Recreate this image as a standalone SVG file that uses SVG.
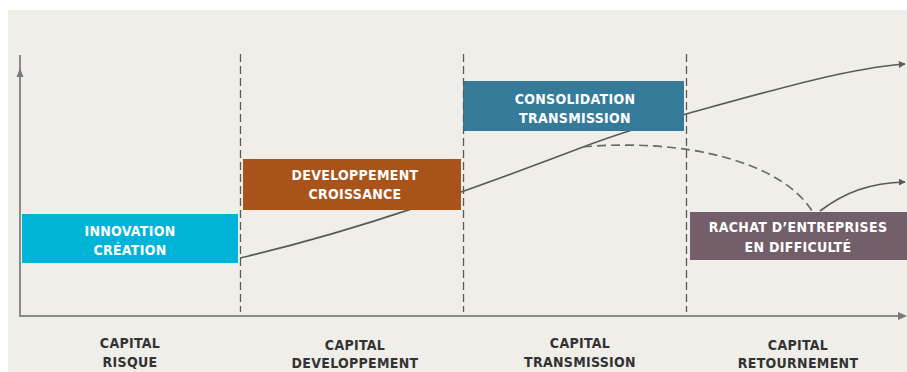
<svg xmlns="http://www.w3.org/2000/svg" width="907" height="372" viewBox="0 0 907 372">
<defs>
<marker id="ah" viewBox="0 0 10 10" refX="9" refY="5" markerWidth="7" markerHeight="7" markerUnits="userSpaceOnUse" orient="auto">
<path d="M0,0 L10,5 L0,10 z" fill="#5a5a5a"/>
</marker>
<style>
.bg{fill:#efeee8}
.line{fill:none;stroke:#5a5a5a;stroke-width:1.6}
.dash{fill:none;stroke:#6a6a6a;stroke-width:1.7;stroke-dasharray:9 5}
.guide{fill:none;stroke:#5a5a5a;stroke-width:1.3;stroke-dasharray:8 4}
.axis{fill:none;stroke:#8a8a8a;stroke-width:2}
.bt{font-family:"DejaVu Sans Condensed","DejaVu Sans",sans-serif;font-weight:bold;font-size:14px;letter-spacing:0.3px;fill:#ffffff;text-anchor:middle}
.lt{font-family:"DejaVu Sans Condensed","DejaVu Sans",sans-serif;font-weight:bold;font-size:14px;letter-spacing:0.3px;fill:#333333;text-anchor:middle}
</style>
</defs>
<rect x="0" y="0" width="907" height="372" fill="#ffffff"/>
<rect class="bg" x="8" y="10" width="899" height="362"/>
<g id="axes">
<line class="axis" x1="20" y1="55" x2="20" y2="317"/>
<path d="M16.5,77 L20,68 L23.5,77 z" fill="#7a7a7a"/>
<line class="axis" x1="19" y1="316" x2="900" y2="316"/>
<path d="M898,312 L907,316 L898,320 z" fill="#7a7a7a"/>
</g>
<g id="connectors">
<path class="line" d="M240,258 C360,230 470,190 583,147 C620,133 650,124 686,114 C780,88 850,68 905,64" marker-end="url(#ah)"/>
<path class="dash" d="M583,147 C680,138 780,160 812,211"/>
<path class="line" d="M820,211 C845,192 870,183 905,182" marker-end="url(#ah)"/>
</g>
<g id="innovation">
<rect x="22" y="214" width="216" height="49" fill="#00b4d8"/>
<text class="bt" x="130" y="236">INNOVATION</text>
<text class="bt" x="130" y="255">CRÉATION</text>
</g>
<g id="developpement">
<rect x="243" y="159" width="218" height="51" fill="#a8531a"/>
<text class="bt" x="355" y="180">DEVELOPPEMENT</text>
<text class="bt" x="355" y="199">CROISSANCE</text>
</g>
<g id="consolidation">
<rect x="463" y="81" width="221" height="50" fill="#357b99"/>
<text class="bt" x="575" y="104">CONSOLIDATION</text>
<text class="bt" x="575" y="123">TRANSMISSION</text>
</g>
<g id="rachat">
<rect x="690" y="212" width="217" height="48" fill="#725f6a"/>
<text class="bt" x="798" y="232">RACHAT D’ENTREPRISES</text>
<text class="bt" x="798" y="252">EN DIFFICULTÉ</text>
</g>
<g id="guides">
<line class="guide" x1="240.5" y1="54" x2="240.5" y2="312"/>
<line class="guide" x1="463.5" y1="54" x2="463.5" y2="312"/>
<line class="guide" x1="686.5" y1="54" x2="686.5" y2="312"/>
</g>
<g id="labels">
<text class="lt" x="130" y="348">CAPITAL</text>
<text class="lt" x="130" y="367">RISQUE</text>
<text class="lt" x="355" y="350">CAPITAL</text>
<text class="lt" x="355" y="368">DEVELOPPEMENT</text>
<text class="lt" x="580" y="348">CAPITAL</text>
<text class="lt" x="580" y="367">TRANSMISSION</text>
<text class="lt" x="798" y="350">CAPITAL</text>
<text class="lt" x="798" y="368">RETOURNEMENT</text>
</g>
</svg>
